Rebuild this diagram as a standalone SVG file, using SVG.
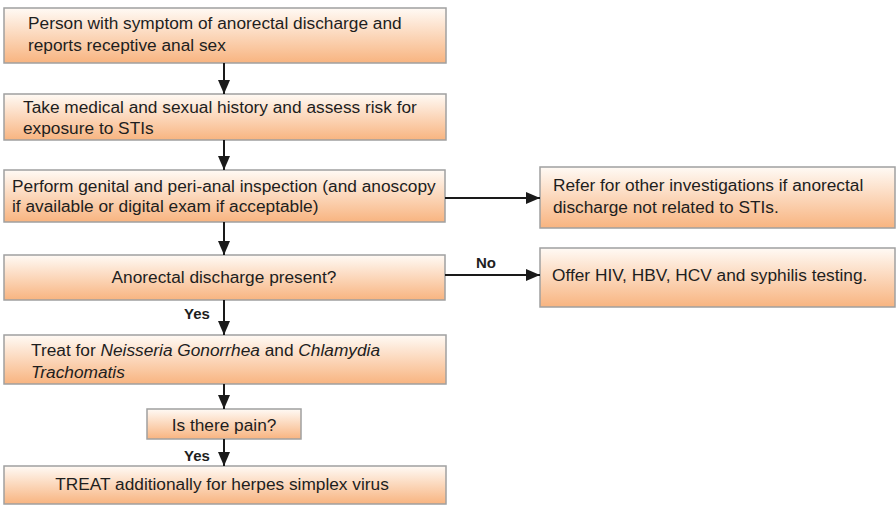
<svg xmlns="http://www.w3.org/2000/svg" width="896" height="505" viewBox="0 0 896 505">
<defs>
<linearGradient id="g" x1="0" y1="0" x2="0" y2="1">
<stop offset="0" stop-color="#fffaf5"/>
<stop offset="1" stop-color="#f8b480"/>
</linearGradient>
<marker id="ah" markerWidth="14" markerHeight="12" refX="14" refY="6" orient="auto" markerUnits="userSpaceOnUse">
<path d="M0,0 L14,6 L0,12 Z" fill="#1a1a1a"/>
</marker>
</defs>
<style>
.box{fill:url(#g);stroke:#a0a0a0;stroke-width:1.5}
.t{font-family:"Liberation Sans",Arial,sans-serif;font-size:17.3px;fill:#1e1e1e}
.c{text-anchor:middle}
.b{font-weight:bold;font-size:15px}
.i{font-style:italic}
.ln{stroke:#1a1a1a;stroke-width:2;fill:none;marker-end:url(#ah)}
</style>
<g id="n1"><rect class="box" x="4" y="8" width="442" height="55"/>
<text class="t" x="28" y="29">Person with symptom of anorectal discharge and</text>
<text class="t" x="28" y="51">reports receptive anal sex</text></g>
<g id="n2"><rect class="box" x="4" y="94" width="442" height="46"/>
<text class="t" x="23" y="113">Take medical and sexual history and assess risk for</text>
<text class="t" x="23" y="134">exposure to STIs</text></g>
<g id="n3"><rect class="box" x="4" y="170" width="441" height="52"/>
<text class="t" x="12" y="192">Perform genital and peri-anal inspection (and anoscopy</text>
<text class="t" x="12" y="212">if available or digital exam if acceptable)</text></g>
<g id="n4"><rect class="box" x="4" y="255" width="441" height="45"/>
<text class="t c" x="224" y="283">Anorectal discharge present?</text></g>
<g id="n5"><rect class="box" x="540" y="167" width="355" height="61"/>
<text class="t" x="553" y="191">Refer for other investigations if anorectal</text>
<text class="t" x="553" y="213">discharge not related to STIs.</text></g>
<g id="n6"><rect class="box" x="540" y="248" width="355" height="59"/>
<text class="t" x="552" y="281">Offer HIV, HBV, HCV and syphilis testing.</text></g>
<g id="n7"><rect class="box" x="4" y="335" width="442" height="49"/>
<text class="t" x="31" y="356">Treat for <tspan class="i">Neisseria Gonorrhea</tspan> and <tspan class="i">Chlamydia</tspan></text>
<text class="t i" x="31" y="378">Trachomatis</text></g>
<g id="n8"><rect class="box" x="147" y="409" width="154" height="30"/>
<text class="t c" x="224" y="431">Is there pain?</text></g>
<g id="n9"><rect class="box" x="4" y="466" width="442" height="38"/>
<text class="t c" x="222" y="490">TREAT additionally for herpes simplex virus</text></g>
<g id="edges">
<line class="ln" x1="224" y1="63" x2="224" y2="94"/>
<line class="ln" x1="224" y1="140" x2="224" y2="170"/>
<line class="ln" x1="224" y1="222" x2="224" y2="255"/>
<line class="ln" x1="445" y1="198" x2="540" y2="198"/>
<line class="ln" x1="445" y1="275" x2="540" y2="275"/>
<line class="ln" x1="224" y1="300" x2="224" y2="335"/>
<line class="ln" x1="224" y1="384" x2="224" y2="409"/>
<line class="ln" x1="224" y1="439" x2="224" y2="466"/>
<text class="t b" x="486" y="268" text-anchor="middle">No</text>
<text class="t b" x="197" y="319" text-anchor="middle">Yes</text>
<text class="t b" x="197" y="461" text-anchor="middle">Yes</text>
</g>
</svg>
